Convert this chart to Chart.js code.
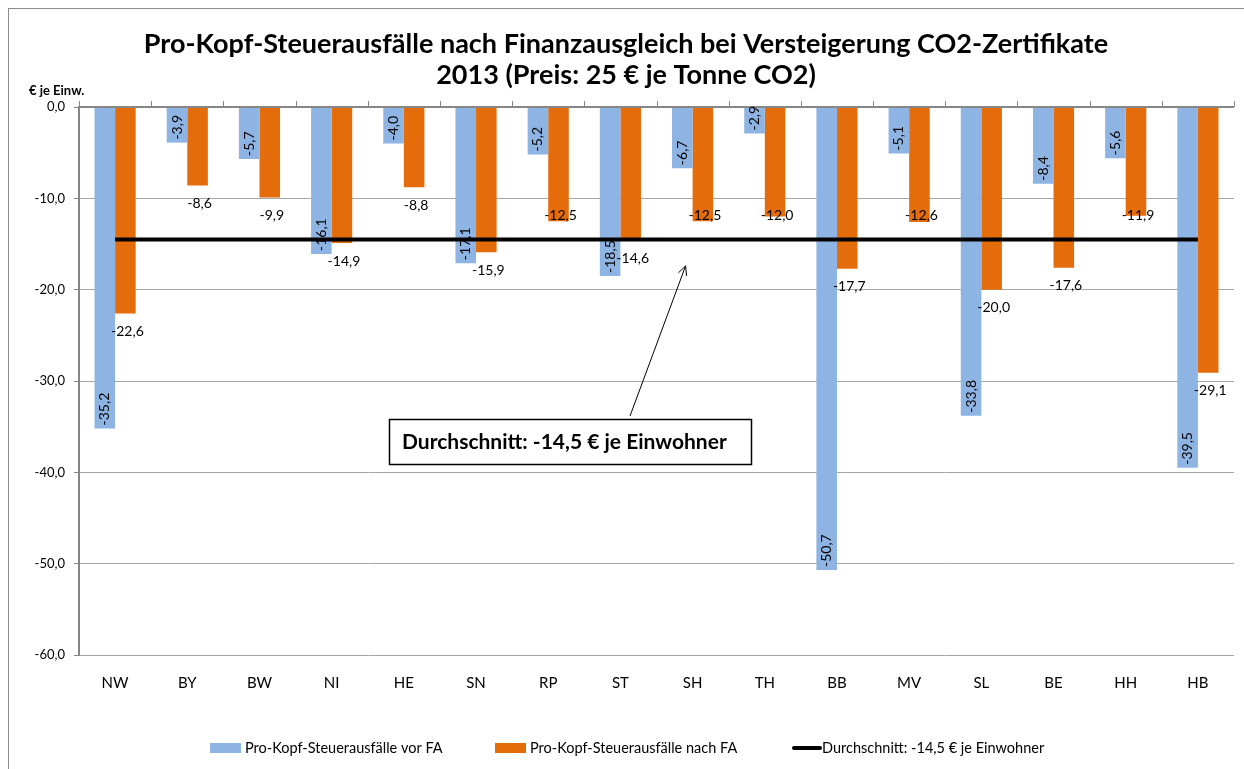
<!DOCTYPE html>
<html>
<head>
<meta charset="utf-8">
<script src="https://cdn.jsdelivr.net/npm/chart.js@4.4.1/dist/chart.umd.min.js"></script>
<style>
html,body{margin:0;padding:0;background:#fff;}
#wrap{position:relative;width:1244px;height:769px;}
</style>
</head>
<body>
<div id="wrap"><canvas id="c" width="1244" height="769"></canvas></div>
<script>
const categories = ['NW','BY','BW','NI','HE','SN','RP','ST','SH','TH','BB','MV','SL','BE','HH','HB'];
const vorFA  = [-35.2, -3.9, -5.7, -16.1, -4.0, -17.1, -5.2, -18.5, -6.7, -2.9, -50.7, -5.1, -33.8, -8.4, -5.6, -39.5];
const nachFA = [-22.6, -8.6, -9.9, -14.9, -8.8, -15.9, -12.5, -14.6, -12.5, -12.0, -17.7, -12.6, -20.0, -17.6, -11.9, -29.1];
const averageValue = -14.5;
const averageSeries = categories.map(() => averageValue);
const seriesNames = ['Pro-Kopf-Steuerausfälle vor FA', 'Pro-Kopf-Steuerausfälle nach FA', 'Durchschnitt: -14,5 € je Einwohner'];
const titleLines = ['Pro-Kopf-Steuerausfälle nach Finanzausgleich bei Versteigerung CO2-Zertifikate', '2013 (Preis: 25 € je Tonne CO2)'];
const yAxisTitle = '€ je Einw.';
const annotationText = 'Durchschnitt: -14,5 € je Einwohner';
const yMin = -60, yMax = 0, yStep = 10;

const FONT = 'Lato, "Open Sans", sans-serif';
const fmt = v => v.toFixed(1).replace('.', ',');

const extras = {
  id: 'extras',
  beforeDraw(chart) {
    const ctx = chart.ctx;
    ctx.save();
    ctx.fillStyle = '#fff';
    ctx.fillRect(0, 0, chart.width, chart.height);
    ctx.strokeStyle = '#8c8c8c';
    ctx.lineWidth = 1;
    ctx.strokeRect(8.5, 8.5, 1400, 900);
    ctx.fillStyle = '#000';
    ctx.textAlign = 'center';
    ctx.textBaseline = 'middle';
    ctx.font = 'bold 27px ' + FONT;
    ctx.fillText(titleLines[0], 626, 44);
    ctx.fillText(titleLines[1], 626, 75);
    ctx.textAlign = 'left';
    ctx.font = 'bold 13px ' + FONT;
    ctx.fillText(yAxisTitle, 29, 91);
    ctx.restore();
  },
  afterDatasetsDraw(chart) {
    const ctx = chart.ctx;
    const ys = chart.scales.y;
    const area = chart.chartArea;
    ctx.save();
    const y0 = ys.getPixelForValue(0);
    ctx.strokeStyle = '#868686';
    ctx.lineWidth = 2;
    ctx.beginPath();
    ctx.moveTo(area.left, y0);
    ctx.lineTo(area.right, y0);
    ctx.stroke();
    ctx.lineWidth = 1;
    const n = categories.length;
    for (let i = 0; i <= n; i++) {
      const x = Math.round(area.left + (area.right - area.left) * i / n) + 0.5;
      ctx.beginPath();
      ctx.moveTo(x, y0);
      ctx.lineTo(x, y0 - 6);
      ctx.stroke();
    }
    ctx.fillStyle = '#000';
    ctx.font = '14px ' + FONT;
    const m0 = chart.getDatasetMeta(0);
    m0.data.forEach((bar, i) => {
      ctx.save();
      ctx.translate(bar.x, bar.y - 3);
      ctx.rotate(-Math.PI / 2);
      ctx.textAlign = 'left';
      ctx.textBaseline = 'middle';
      ctx.fillText(fmt(vorFA[i]), 0, 0);
      ctx.restore();
    });
    const lineY = ys.getPixelForValue(averageValue);
    const m1 = chart.getDatasetMeta(1);
    m1.data.forEach((bar, i) => {
      let ly = bar.y + 18;
      if (Math.abs(ly - lineY) < 12) ly = lineY - 24; // keep label clear of the average line
      ctx.textAlign = 'center';
      ctx.textBaseline = 'middle';
      ctx.fillText(fmt(nachFA[i]), bar.x + 2, ly);
    });
    ctx.restore();
  },
  afterDraw(chart) {
    const ctx = chart.ctx;
    const xs = chart.scales.x, ys = chart.scales.y;
    ctx.save();
    const bx = 389, by = 419, bw = 362, bh = 45;
    ctx.fillStyle = '#fff';
    ctx.fillRect(bx, by, bw, bh);
    ctx.strokeStyle = '#000';
    ctx.lineWidth = 1.5;
    ctx.strokeRect(bx + 0.5, by + 0.5, bw, bh);
    ctx.fillStyle = '#000';
    ctx.font = 'bold 21px ' + FONT;
    ctx.textAlign = 'left';
    ctx.textBaseline = 'middle';
    ctx.fillText(annotationText, bx + 13, by + 23);
    const tipX = xs.getPixelForValue(8) - 7;
    const tipY = ys.getPixelForValue(-17.4);
    const sx = 630, sy = by - 3;
    ctx.lineWidth = 1;
    ctx.beginPath();
    ctx.moveTo(sx, sy);
    ctx.lineTo(tipX, tipY);
    ctx.stroke();
    const ang = Math.atan2(tipY - sy, tipX - sx);
    const L = 10, spread = 0.45;
    ctx.beginPath();
    ctx.moveTo(tipX - L * Math.cos(ang - spread), tipY - L * Math.sin(ang - spread));
    ctx.lineTo(tipX, tipY);
    ctx.lineTo(tipX - L * Math.cos(ang + spread), tipY - L * Math.sin(ang + spread));
    ctx.stroke();
    const ly = 748;
    ctx.font = '14.5px ' + FONT;
    ctx.textBaseline = 'middle';
    const ds = chart.data.datasets;
    const starts = [210, 495, 792];
    ds.forEach((d, i) => {
      const x = starts[i];
      if (d.type === 'line') {
        ctx.strokeStyle = d.borderColor;
        ctx.lineWidth = 4;
        ctx.lineCap = 'round';
        ctx.beginPath();
        ctx.moveTo(x + 2, ly);
        ctx.lineTo(x + 28, ly);
        ctx.stroke();
        ctx.fillStyle = '#000';
        ctx.fillText(d.label, x + 30, ly);
      } else {
        ctx.fillStyle = d.backgroundColor;
        ctx.fillRect(x, ly - 5, 31, 10);
        ctx.fillStyle = '#000';
        ctx.fillText(d.label, x + 35, ly);
      }
    });
    ctx.restore();
  }
};

new Chart(document.getElementById('c'), {
  data: {
    labels: categories,
    datasets: [
      { type: 'bar', label: seriesNames[0], data: vorFA, backgroundColor: '#8eb4e3', borderWidth: 0, order: 1,
        categoryPercentage: 0.57, barPercentage: 1.0 },
      { type: 'bar', label: seriesNames[1], data: nachFA, backgroundColor: '#e46c0a', borderWidth: 0, order: 1,
        categoryPercentage: 0.57, barPercentage: 1.0 },
      { type: 'line', label: seriesNames[2], data: averageSeries, borderColor: '#000', backgroundColor: '#000',
        borderWidth: 4, pointRadius: 0, order: 0, tension: 0 }
    ]
  },
  options: {
    responsive: false,
    devicePixelRatio: 1,
    animation: false,
    layout: { padding: { top: 107, left: 0, right: 10, bottom: 77 } },
    plugins: {
      title: { display: false },
      tooltip: { enabled: false },
      legend: { display: false }
    },
    scales: {
      x: {
        grid: { display: false, drawTicks: false },
        border: { display: false },
        ticks: { font: { family: FONT, size: 15 }, color: '#000', padding: 19 },
        afterFit(s) { s.height = 37; }
      },
      y: {
        min: yMin, max: yMax,
        ticks: { stepSize: yStep, font: { family: FONT, size: 13 }, color: '#000', padding: 9,
                 callback: v => fmt(v) },
        grid: { color: '#a6a6a6', lineWidth: 1, tickLength: 5, tickColor: '#868686' },
        border: { display: true, color: '#868686', width: 2 },
        afterFit(s) { s.width = 79; }
      }
    }
  },
  plugins: [extras]
});
</script>
</body>
</html>
